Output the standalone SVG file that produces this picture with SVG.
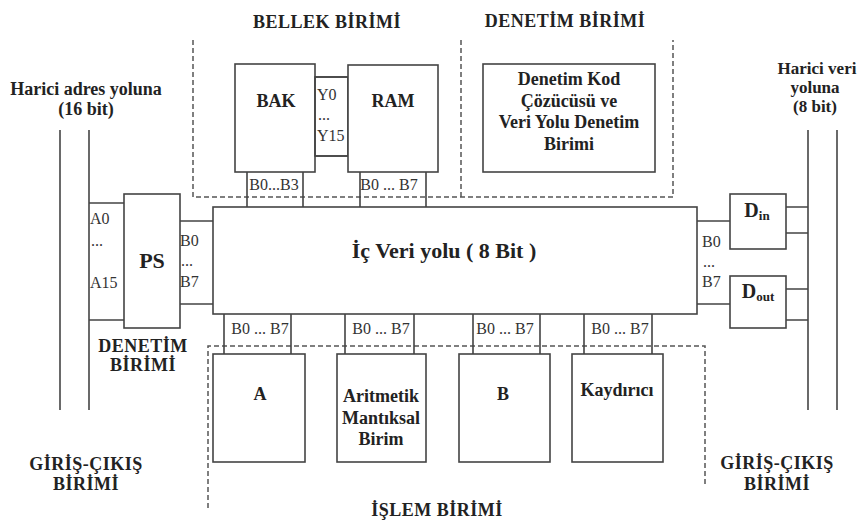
<svg xmlns="http://www.w3.org/2000/svg" width="861" height="522" viewBox="0 0 861 522">
<style>
  .box{fill:#fff;stroke:#444;stroke-width:1.6}
  .ln{stroke:#444;stroke-width:1.6;fill:none}
  .dash{stroke:#555;stroke-width:1.5;fill:none;stroke-dasharray:5 3}
  .t{font-family:"Liberation Serif","Times New Roman",serif;font-weight:bold;font-size:18px;fill:#222;text-anchor:middle}
  .title{letter-spacing:0.5px}
  .p{font-family:"Liberation Serif","Times New Roman",serif;font-size:16px;fill:#333}
  .pm{text-anchor:middle}
</style>
<rect width="861" height="522" fill="#fff"/>

<g id="regions">
  <path class="dash" d="M193 40 V197 H673 V40 M461 40 V197"/>
  <path class="dash" d="M208 508 V346 H705 V487"/>
</g>

<g id="connectors">
  <line class="ln" x1="60" y1="130" x2="60" y2="410"/>
  <line class="ln" x1="89" y1="130" x2="89" y2="410"/>
  <line class="ln" x1="808" y1="130" x2="808" y2="410"/>
  <line class="ln" x1="837" y1="130" x2="837" y2="410"/>
  <path class="ln" d="M89 203 H124 M89 320 H124"/>
  <path class="ln" d="M180 221 H213 M180 304 H213"/>
  <path class="ln" d="M697 221 H730 M697 304 H730"/>
  <path class="ln" d="M786 207 H808 M786 233 H808 M786 289 H808 M786 320 H808"/>
  <path class="ln" d="M315 77 H348 M315 156 H348"/>
  <path class="ln" d="M247 172 V207 M303 172 V207 M360 172 V207 M426 172 V207"/>
  <path class="ln" d="M224 314 V354 M291 314 V354 M345 314 V354 M414 314 V354 M473 314 V354 M540 314 V354 M584 314 V354 M652 314 V354"/>
</g>

<g id="labels">
  <text class="t title" x="327" y="28">BELLEK BİRİMİ</text>
  <text class="t title" x="565" y="27">DENETİM BİRİMİ</text>
  <text class="t" x="86" y="95">Harici adres yoluna</text>
  <text class="t" x="86" y="115">(16 bit)</text>
  <text class="t" x="817" y="74" style="font-size:17px">Harici veri</text>
  <text class="t" x="815" y="93" style="font-size:17px">yoluna</text>
  <text class="t" x="815" y="112" style="font-size:17px">(8 bit)</text>
  <text class="t title" x="143" y="352">DENETİM</text>
  <text class="t title" x="143" y="371">BİRİMİ</text>
  <text class="t title" x="86" y="470">GİRİŞ-ÇIKIŞ</text>
  <text class="t title" x="86" y="490">BİRİMİ</text>
  <text class="t title" x="777" y="469">GİRİŞ-ÇIKIŞ</text>
  <text class="t title" x="777" y="490">BİRİMİ</text>
  <text class="t title" x="437" y="516">İŞLEM BİRİMİ</text>
  <text class="p" x="90" y="224">A0</text>
  <text class="p" x="91" y="246">...</text>
  <text class="p" x="90" y="288">A15</text>
  <text class="p" x="180" y="246">B0</text>
  <text class="p" x="181" y="266">...</text>
  <text class="p" x="180" y="287">B7</text>
  <text class="p" x="702" y="247">B0</text>
  <text class="p" x="703" y="267">...</text>
  <text class="p" x="702" y="287">B7</text>
  <text class="p" x="317" y="100">Y0</text>
  <text class="p" x="318" y="120">...</text>
  <text class="p" x="317" y="141">Y15</text>
  <text class="p pm" x="274" y="190">B0...B3</text>
  <text class="p pm" x="389" y="190">B0 ... B7</text>
  <text class="p pm" x="260" y="334">B0 ... B7</text>
  <text class="p pm" x="381" y="334">B0 ... B7</text>
  <text class="p pm" x="505" y="334">B0 ... B7</text>
  <text class="p pm" x="620" y="334">B0 ... B7</text>
</g>

<g id="node-bak">
  <rect class="box" x="235" y="64" width="80" height="108"/>
  <text class="t" x="276" y="107">BAK</text>
</g>
<g id="node-y">
  <rect class="box" x="315" y="77" width="33" height="79" style="fill:none"/>
</g>
<g id="node-ram">
  <rect class="box" x="348" y="65" width="90" height="107"/>
  <text class="t" x="393" y="107">RAM</text>
</g>
<g id="node-denetim">
  <rect class="box" x="483" y="64" width="172" height="108"/>
  <text class="t" x="569" y="85">Denetim Kod</text>
  <text class="t" x="569" y="107">Çözücüsü ve</text>
  <text class="t" x="569" y="128">Veri Yolu Denetim</text>
  <text class="t" x="569" y="150">Birimi</text>
</g>
<g id="node-ps">
  <rect class="box" x="124" y="194" width="56" height="134"/>
  <text class="t" x="152" y="268" style="font-size:22px">PS</text>
</g>
<g id="node-bus">
  <rect class="box" x="213" y="207" width="484" height="107"/>
  <text class="t" x="444" y="258" style="font-size:22px">İç Veri yolu ( 8 Bit )</text>
</g>
<g id="node-din">
  <rect class="box" x="730" y="194" width="56" height="55"/>
  <text class="t" x="757" y="217" style="font-size:20px">D<tspan dy="3" style="font-size:13px">in</tspan></text>
</g>
<g id="node-dout">
  <rect class="box" x="730" y="276" width="56" height="52"/>
  <text class="t" x="758" y="298" style="font-size:20px">D<tspan dy="3" style="font-size:13px">out</tspan></text>
</g>
<g id="node-a">
  <rect class="box" x="213" y="354" width="92" height="108"/>
  <text class="t" x="260" y="400">A</text>
</g>
<g id="node-alu">
  <rect class="box" x="337" y="354" width="89" height="108"/>
  <text class="t" x="381" y="402">Aritmetik</text>
  <text class="t" x="381" y="424">Mantıksal</text>
  <text class="t" x="381" y="445">Birim</text>
</g>
<g id="node-b">
  <rect class="box" x="459" y="354" width="91" height="108"/>
  <text class="t" x="503" y="400">B</text>
</g>
<g id="node-kaydirici">
  <rect class="box" x="572" y="354" width="91" height="108"/>
  <text class="t" x="617" y="396">Kaydırıcı</text>
</g>
</svg>
